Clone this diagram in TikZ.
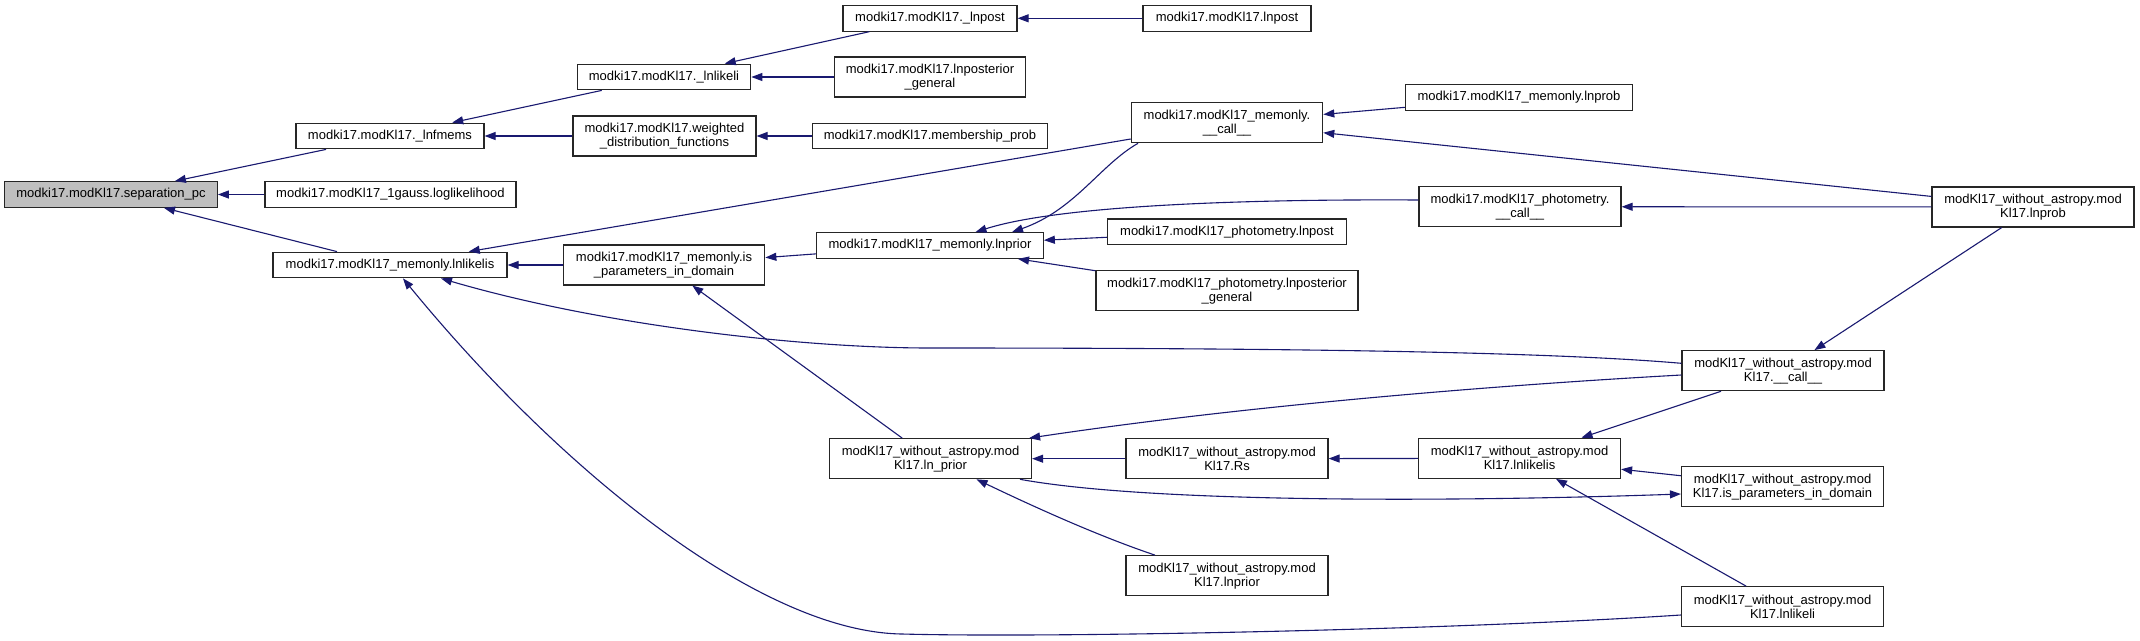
\documentclass[tikz,border=0pt]{standalone}
\usepackage{fontspec}
\setmainfont{Liberation Sans}
\usetikzlibrary{arrows.meta}
\definecolor{edgec}{HTML}{191970}
\definecolor{rootfill}{HTML}{BFBFBF}
\begin{document}
\begin{tikzpicture}[x=1pt,y=-1pt,
  box/.style={draw=black!85, line width=1.2pt, fill=white, inner sep=0pt, align=center, font=\fontsize{13}{14}\selectfont},
  one/.style={box, minimum height=25.6pt},
  two/.style={box, minimum height=40pt},
  edg/.style={draw=edgec, line width=1.1pt, -{Triangle[length=11pt,width=8pt]}}]
\useasboundingbox[fill=white] (0,0) rectangle (2140,640);

% rank 0
\node[one, fill=rootfill, minimum width=212.6pt] (sep) at (111,194.5) {modki17.modKl17.separation\_pc};
% rank 1
\node[one, minimum width=188pt] (lnfmems) at (390,136) {modki17.modKl17.\_lnfmems};
\node[one, minimum width=251pt] (gauss) at (390.4,194.5) {modki17.modKl17\_1gauss.loglikelihood};
\node[one, minimum width=234pt] (mlnlikelis) at (390,265) {modki17.modKl17\_memonly.lnlikelis};
% rank 2
\node[one, minimum width=173.5pt] (lnlikeli) at (664,77) {modki17.modKl17.\_lnlikeli};
\node[two, minimum width=183pt] (weighted) at (664.5,136) {modki17.modKl17.weighted\\\_distribution\_functions};
\node[two, minimum width=201.5pt] (mispar) at (664,265) {modki17.modKl17\_memonly.is\\\_parameters\_in\_domain};
% rank 3
\node[one, minimum width=174pt] (ulnpost) at (930,18.3) {modki17.modKl17.\_lnpost};
\node[two, minimum width=191.5pt] (lnposterior) at (930,77) {modki17.modKl17.lnposterior\\\_general};
\node[one, minimum width=235pt] (membership) at (930,136) {modki17.modKl17.membership\_prob};
\node[one, minimum width=226.5pt] (mlnprior) at (930,245.5) {modki17.modKl17\_memonly.lnprior};
\node[two, minimum width=202pt] (lnprioru) at (930.5,458.7) {modKl17\_without\_astropy.mod\\Kl17.ln\_prior};
% rank 4
\node[one, minimum width=168pt] (lnpost) at (1227,18.3) {modki17.modKl17.lnpost};
\node[two, minimum width=191.4pt] (mcall) at (1227,122.7) {modki17.modKl17\_memonly.\\\_\_call\_\_};
\node[one, minimum width=239pt] (plnpost) at (1227,231.7) {modki17.modKl17\_photometry.lnpost};
\node[two, minimum width=262pt] (plnposterior) at (1227,290.7) {modki17.modKl17\_photometry.lnposterior\\\_general};
\node[two, minimum width=202pt] (wRs) at (1227,458.7) {modKl17\_without\_astropy.mod\\Kl17.Rs};
\node[two, minimum width=202pt] (wlnprior) at (1227,575.7) {modKl17\_without\_astropy.mod\\Kl17.lnprior};
% rank 5
\node[one, minimum width=227pt] (mlnprob) at (1519,97.5) {modki17.modKl17\_memonly.lnprob};
\node[two, minimum width=202pt] (pcall) at (1520,206.7) {modki17.modKl17\_photometry.\\\_\_call\_\_};
\node[two, minimum width=202pt] (wlnlikelis) at (1519.5,458.3) {modKl17\_without\_astropy.mod\\Kl17.lnlikelis};
% rank 6
\node[two, minimum width=202pt] (wcall) at (1783,370.7) {modKl17\_without\_astropy.mod\\Kl17.\_\_call\_\_};
\node[two, minimum width=202pt] (wispar) at (1782.5,486.7) {modKl17\_without\_astropy.mod\\Kl17.is\_parameters\_in\_domain};
\node[two, minimum width=202pt] (wlnlikeli) at (1782.5,606.7) {modKl17\_without\_astropy.mod\\Kl17.lnlikeli};
% rank 7
\node[two, minimum width=202pt] (wlnprob) at (2033,207) {modKl17\_without\_astropy.mod\\Kl17.lnprob};

% edges (caller -> callee)
\draw[edg] (lnfmems) -- (sep);
\draw[edg] (gauss) -- (sep);
\draw[edg] (mlnlikelis) -- (sep);
\draw[edg] (lnlikeli) -- (lnfmems);
\draw[edg] (weighted) -- (lnfmems);
\draw[edg] (ulnpost) -- (lnlikeli);
\draw[edg] (lnposterior) -- (lnlikeli);
\draw[edg] (lnpost) -- (ulnpost);
\draw[edg] (membership) -- (weighted);
\draw[edg] (mcall) -- (mlnlikelis);
\draw[edg] (mispar) -- (mlnlikelis);
\draw[edg] ([yshift=7.4pt]wcall.west) .. controls (1550,352) and (1300,348) .. (930,348)
   .. controls (800,348) and (600,325) .. ([xshift=51pt]mlnlikelis.south);
\draw[edg] ([yshift=-8.3pt]wlnlikeli.west) .. controls (1450,630) and (1050,638) .. (902,634)
   .. controls (760,632) and (560,470) .. ([xshift=13pt]mlnlikelis.south);
\draw[edg] (mlnprior) -- (mispar);
\draw[edg] (lnprioru) -- (mispar);
\draw[edg] ([xshift=-89pt]mcall.south) .. controls (1100,165) and (1075,210) .. ([xshift=82pt]mlnprior.north);
\draw[edg] ([yshift=6.7pt]pcall.west) .. controls (1250,199) and (1060,205) .. ([xshift=45.5pt]mlnprior.north);
\draw[edg] (plnpost) -- (mlnprior);
\draw[edg] (plnposterior) -- (mlnprior);
\draw[edg] (mlnprob) -- (mcall);
\draw[edg] (wlnprob) -- (mcall);
\draw[edg] (wlnprob) -- (pcall);
\draw[edg] (wlnprob) -- (wcall);
\draw[edg] (wRs) -- (lnprioru);
\draw[edg] (wlnlikelis) -- (wRs);
\draw[edg] ([xshift=-72pt]wlnprior.north) .. controls (1095,535) and (1026,503) .. ([xshift=46pt]lnprioru.south);
\draw[edg] ([yshift=-4.3pt]wcall.west) .. controls (1500,385) and (1250,405) .. ([xshift=-3pt]lnprioru.north east);
\draw[edg] ([xshift=89.5pt]lnprioru.south) .. controls (1150,503) and (1450,502) .. ([yshift=-7.3pt]wispar.west);
\draw[edg] (wispar) -- (wlnlikelis);
\draw[edg] (wlnlikeli) -- (wlnlikelis);
\draw[edg] (wcall) -- (wlnlikelis);
\end{tikzpicture}
\end{document}
